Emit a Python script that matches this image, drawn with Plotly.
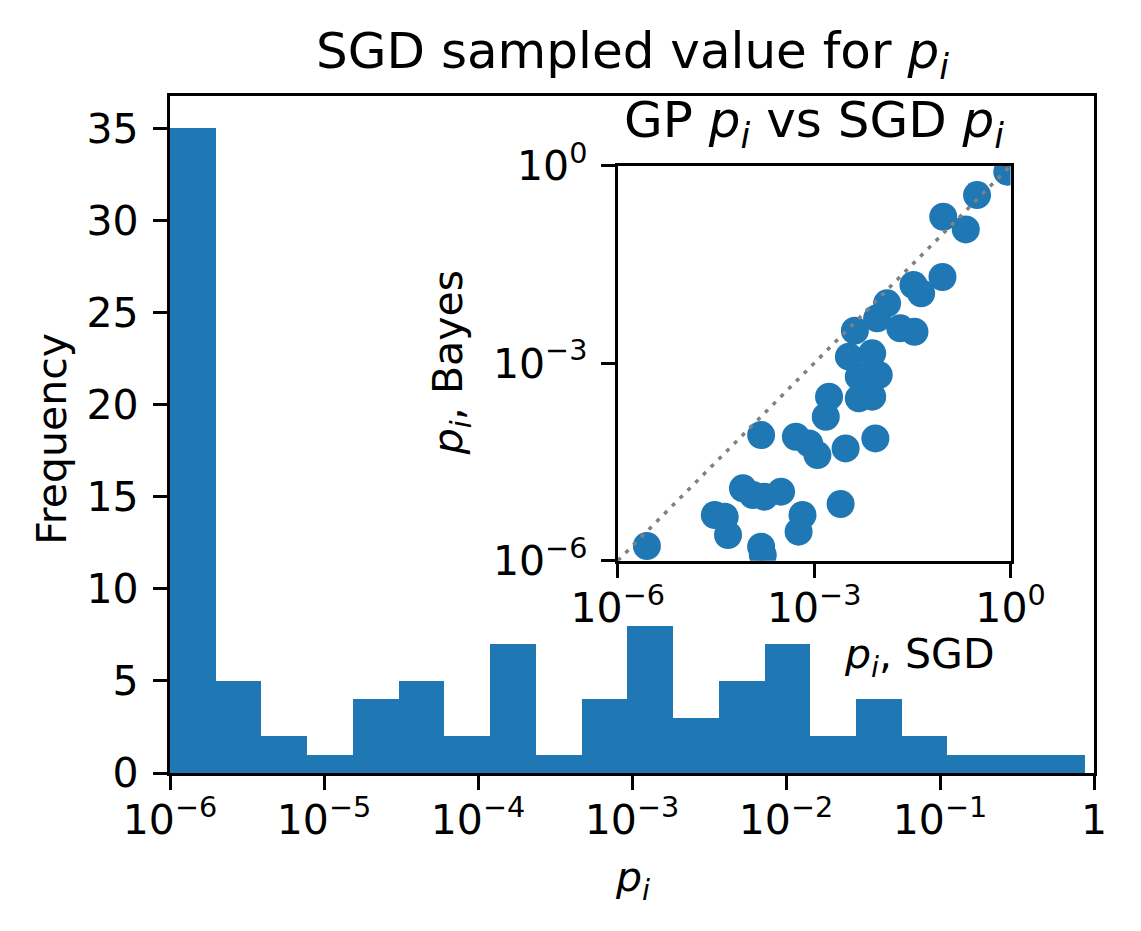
import numpy as np
import plotly.graph_objects as go

# histogram of SGD p_i (20 log-spaced bins)
hist_counts = [35, 5, 2, 1, 4, 5, 2, 7, 1, 4, 8, 3, 5, 7, 2, 4, 2, 1, 1, 1]
p_min = 1e-6
p_max = 0.87

# inset: SGD p_i vs GP (Bayes) p_i, read as log10 values
sgd_log = [-0.05, -0.512, -1.028, -0.684, -1.04, -1.483, -1.366, -1.886, -1.468, -1.685,
           -2.378, -2.038, -2.469, -2.114, -2.318, -2.014, -2.318, -2.114, -2.773, -2.823,
           -3.81, -3.279, -2.95, -3.077, -2.52, -2.065, -4.088, -3.936, -3.76, -3.506,
           -2.596, -3.178, -3.238, -4.518, -4.366, -4.316, -5.555, -3.81, -3.785]
bayes_log = [-0.09, -0.446, -0.775, -0.967, -1.69, -1.812, -1.938, -2.09, -2.522, -2.47,
             -2.506, -2.318, -2.901, -2.85, -3.205, -3.179, -3.533, -3.509, -3.509, -3.813,
             -4.091, -4.117, -4.395, -4.218, -4.294, -4.142, -4.901, -5.003, -5.028, -4.952,
             -5.139, -5.306, -5.559, -5.306, -5.332, -5.61, -5.777, -5.788, -5.914]

main_ticks = [-6, -5, -4, -3, -2, -1, 0]
main_ticktext = ["10<sup>\u22126</sup>", "10<sup>\u22125</sup>", "10<sup>\u22124</sup>",
                 "10<sup>\u22123</sup>", "10<sup>\u22122</sup>", "10<sup>\u22121</sup>", "1"]
inset_ticks = [1e-6, 1e-3, 1]
inset_ticktext = ["10<sup>\u22126</sup>", "10<sup>\u22123</sup>", "10<sup>0</sup>"]

BLUE = "#1f77b4"
FONT = "DejaVu Sans"

edges = np.linspace(np.log10(p_min), np.log10(p_max), len(hist_counts) + 1)
bw = edges[1] - edges[0]
centers = edges[:-1] + bw / 2

fig = go.Figure()
fig.add_trace(go.Bar(x=centers, y=hist_counts, width=bw, marker=dict(color=BLUE, line=dict(width=0)),
                     xaxis="x", yaxis="y"))
fig.add_trace(go.Scatter(x=10 ** np.array(sgd_log), y=10 ** np.array(bayes_log), mode="markers",
                         marker=dict(color=BLUE, size=28, line=dict(width=0)),
                         xaxis="x2", yaxis="y2"))
fig.add_trace(go.Scatter(x=[1e-6, 1], y=[1e-6, 1], mode="lines",
                         line=dict(color="grey", width=3.5, dash="4px,7px"),
                         xaxis="x2", yaxis="y2"))

axis_style = dict(showline=True, linecolor="black", linewidth=3.3, mirror=True,
                  ticks="outside", ticklen=14, tickwidth=3.3, tickcolor="black",
                  showgrid=False, zeroline=False,
                  tickfont=dict(family=FONT, size=41, color="black"))

fig.update_layout(
    width=1141, height=931,
    margin=dict(l=170, r=41, t=96, b=158),
    paper_bgcolor="white", plot_bgcolor="white",
    showlegend=False, bargap=0,
    font=dict(family=FONT, color="black"),
    xaxis=dict(range=[-6, 0], tickvals=main_ticks, ticktext=main_ticktext,
               domain=[0, 1], anchor="y", ticklabelstandoff=-5, **axis_style),
    yaxis=dict(range=[0, 36.75], tickvals=[0, 5, 10, 15, 20, 25, 30, 35],
               domain=[0, 1], anchor="x", ticklabelstandoff=6, **axis_style),
    xaxis2=dict(type="log", range=[-6, 0], tickvals=inset_ticks, ticktext=inset_ticktext,
                domain=[0.4846, 0.9097], anchor="y2", ticklabelstandoff=-5, **axis_style),
    yaxis2=dict(type="log", range=[-6, 0], tickvals=inset_ticks, ticktext=inset_ticktext,
                domain=[0.3136, 0.897], anchor="x2", ticklabelstandoff=5, **axis_style),
)

def label(text, x, y, size=41, angle=0):
    fig.add_annotation(text=text, x=x, y=y, xref="paper", yref="paper", showarrow=False,
                       textangle=angle, xanchor="center", yanchor="middle",
                       font=dict(family=FONT, size=size, color="black"))

label("SGD sampled value for <i>p<sub>i</sub></i>", 0.5, (773 - 54) / 677, size=50)
label("Frequency", (51 - 170) / 930, (773 - 439) / 677, angle=-90)
label("<i>p<sub>i</sub></i>", (635 - 170) / 930, (773 - 880) / 677)
label("GP <i>p<sub>i</sub></i> vs SGD <i>p<sub>i</sub></i>", (818 - 170) / 930, (773 - 123) / 677, size=50)
label("<i>p<sub>i</sub></i>, Bayes", (453 - 170) / 930, (773 - 363) / 677, angle=-90)
label("<i>p<sub>i</sub></i>, SGD", (924 - 170) / 930, (773 - 657) / 677)

# page body has an 8px default margin; drop it so the figure sits at the top-left corner
fig.write_html("out.html", config={"displayModeBar": False},
               post_script="document.body.style.margin='0';")
